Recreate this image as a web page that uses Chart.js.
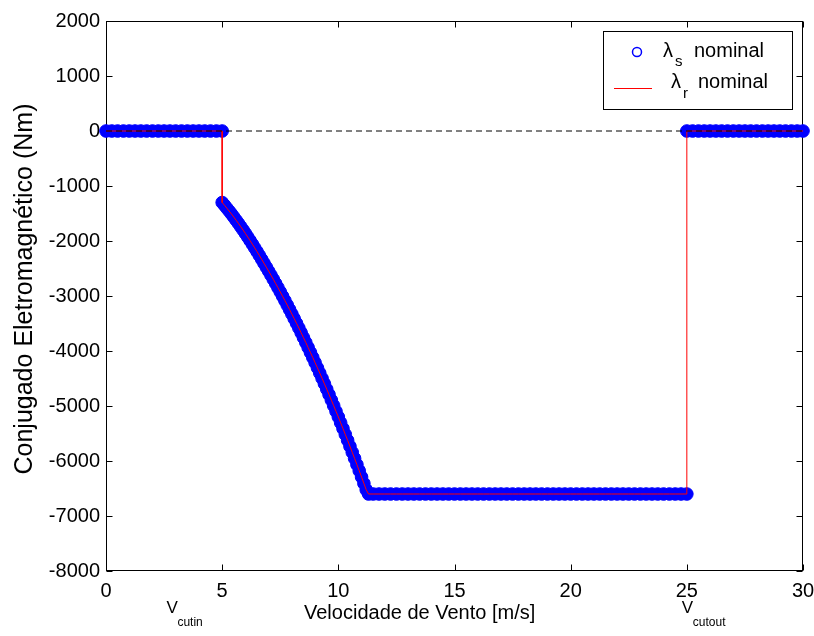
<!DOCTYPE html>
<html>
<head>
<meta charset="utf-8">
<script src="https://cdn.jsdelivr.net/npm/chart.js@4.4.0/dist/chart.umd.min.js"></script>
<style>
html, body { margin: 0; padding: 0; background: #fff; }
</style>
</head>
<body>
<canvas id="grafico" width="814" height="636"></canvas>
<script>
// ===================== DADOS =====================
// trecho abaixo do vento de partida
const velBaixa = [0, 0.25, 0.5, 0.75, 1, 1.25, 1.5, 1.75, 2, 2.25, 2.5, 2.75, 3, 3.25, 3.5, 3.75, 4, 4.25, 4.5, 4.75, 5];
const conjBaixa = [0, 0, 0, 0, 0, 0, 0, 0, 0, 0, 0, 0, 0, 0, 0, 0, 0, 0, 0, 0, 0];

// trecho de potência ótima
const velCurva = [5, 5.1, 5.2, 5.3, 5.4, 5.5, 5.6, 5.7, 5.8, 5.9,
    6, 6.1, 6.2, 6.3, 6.4, 6.5, 6.6, 6.7, 6.8, 6.9,
    7, 7.1, 7.2, 7.3, 7.4, 7.5, 7.6, 7.7, 7.8, 7.9,
    8, 8.1, 8.2, 8.3, 8.4, 8.5, 8.6, 8.7, 8.8, 8.9,
    9, 9.1, 9.2, 9.3, 9.4, 9.5, 9.6, 9.7, 9.8, 9.9,
    10, 10.1, 10.2, 10.3, 10.4, 10.5, 10.6, 10.7, 10.8, 10.9,
    11, 11.1, 11.2, 11.3];
const conjCurva = [-1300, -1350, -1402, -1455, -1509, -1565, -1622, -1680, -1740, -1801,
    -1863, -1927, -1992, -2058, -2125, -2193, -2262, -2333, -2404, -2476,
    -2548, -2621, -2696, -2771, -2848, -2925, -3004, -3083, -3164, -3245,
    -3328, -3412, -3496, -3582, -3669, -3757, -3846, -3936, -4027, -4119,
    -4212, -4306, -4401, -4497, -4595, -4693, -4792, -4893, -4994, -5097,
    -5200, -5305, -5410, -5517, -5624, -5733, -5843, -5953, -6065, -6178,
    -6292, -6407, -6523, -6600];

// trecho de conjugado nominal
const velPlana = [11.5, 11.75, 12, 12.25, 12.5, 12.75, 13, 13.25, 13.5, 13.75,
    14, 14.25, 14.5, 14.75, 15, 15.25, 15.5, 15.75, 16, 16.25,
    16.5, 16.75, 17, 17.25, 17.5, 17.75, 18, 18.25, 18.5, 18.75,
    19, 19.25, 19.5, 19.75, 20, 20.25, 20.5, 20.75, 21, 21.25,
    21.5, 21.75, 22, 22.25, 22.5, 22.75, 23, 23.25, 23.5, 23.75,
    24, 24.25, 24.5, 24.75, 25];
const conjPlana = [-6600, -6600, -6600, -6600, -6600, -6600, -6600, -6600, -6600, -6600,
    -6600, -6600, -6600, -6600, -6600, -6600, -6600, -6600, -6600, -6600,
    -6600, -6600, -6600, -6600, -6600, -6600, -6600, -6600, -6600, -6600,
    -6600, -6600, -6600, -6600, -6600, -6600, -6600, -6600, -6600, -6600,
    -6600, -6600, -6600, -6600, -6600, -6600, -6600, -6600, -6600, -6600,
    -6600, -6600, -6600, -6600, -6600];

// trecho acima do vento de corte
const velAlta = [25, 25.25, 25.5, 25.75, 26, 26.25, 26.5, 26.75, 27, 27.25, 27.5, 27.75, 28, 28.25, 28.5, 28.75, 29, 29.25, 29.5, 29.75, 30];
const conjAlta = [0, 0, 0, 0, 0, 0, 0, 0, 0, 0, 0, 0, 0, 0, 0, 0, 0, 0, 0, 0, 0];

const ticksX = [0, 5, 10, 15, 20, 25, 30];
const ticksY = [2000, 1000, 0, -1000, -2000, -3000, -4000, -5000, -6000, -7000, -8000];
const linhaZeroX = [0, 30];

const FONTE = "'Liberation Sans', Arial, sans-serif";

function pares(vs, ts) {
    return vs.map((v, i) => ({ x: v, y: ts[i] }));
}

const pontos = [].concat(
    pares(velBaixa, conjBaixa),
    pares(velCurva, conjCurva),
    pares(velPlana, conjPlana),
    pares(velAlta, conjAlta)
);

// ===================== MOLDURA ESTILO MATLAB =====================
const moldura = {
    id: "moldura",
    beforeDatasetsDraw(chart) {
        const { ctx, chartArea: a, scales } = chart;
        ctx.save();
        ctx.strokeStyle = "#000";
        ctx.lineWidth = 1;
        const L = Math.round(a.left) + 0.5, R = Math.round(a.right) - 0.5;
        const T = Math.round(a.top) + 0.5, B = Math.round(a.bottom) - 0.5;
        ctx.strokeRect(L, T, R - L, B - T);
        ctx.beginPath();
        ticksX.forEach(v => {
            const px = Math.round(scales.x.getPixelForValue(v)) + 0.5;
            ctx.moveTo(px, B); ctx.lineTo(px, B - 6);
            ctx.moveTo(px, T); ctx.lineTo(px, T + 6);
        });
        ticksY.forEach(v => {
            const py = Math.round(scales.y.getPixelForValue(v)) + 0.5;
            ctx.moveTo(L, py); ctx.lineTo(L + 6, py);
            ctx.moveTo(R, py); ctx.lineTo(R - 6, py);
        });
        ctx.stroke();
        ctx.restore();
    },
    afterDraw(chart) {
        const { ctx, chartArea: a, scales } = chart;
        ctx.save();
        ctx.fillStyle = "#000";

        // título do eixo y
        ctx.save();
        ctx.translate(25, (a.top + a.bottom) / 2 - 7);
        ctx.rotate(-Math.PI / 2);
        ctx.textAlign = "center";
        ctx.textBaseline = "middle";
        ctx.font = "25px " + FONTE;
        ctx.fillText("Conjugado Eletromagnético (Nm)", 0, 0);
        ctx.restore();

        // título do eixo x
        ctx.textAlign = "center";
        ctx.textBaseline = "alphabetic";
        ctx.font = "20px " + FONTE;
        ctx.fillText("Velocidade de Vento [m/s]", scales.x.getPixelForValue(13.5), 619);

        // V_cutin e V_cutout
        ctx.textAlign = "left";
        ctx.font = "17px " + FONTE;
        const xIn = scales.x.getPixelForValue(2.6);
        ctx.fillText("V", xIn, 613);
        ctx.font = "12px " + FONTE;
        ctx.fillText("cutin", xIn + 11, 626);
        ctx.font = "17px " + FONTE;
        const xOut = scales.x.getPixelForValue(25) - 5;
        ctx.fillText("V", xOut, 613);
        ctx.font = "12px " + FONTE;
        ctx.fillText("cutout", xOut + 11, 626);

        // legenda
        ctx.fillStyle = "#fff";
        ctx.fillRect(603, 31, 189, 78);
        ctx.strokeStyle = "#000";
        ctx.lineWidth = 1;
        ctx.strokeRect(603.5, 31.5, 189, 78);

        ctx.beginPath();
        ctx.arc(637, 52, 4.5, 0, 2 * Math.PI);
        ctx.strokeStyle = "#0000ff";
        ctx.lineWidth = 1.5;
        ctx.stroke();

        ctx.beginPath();
        ctx.moveTo(614, 88.5);
        ctx.lineTo(652, 88.5);
        ctx.strokeStyle = "#ff0000";
        ctx.lineWidth = 1;
        ctx.stroke();

        ctx.fillStyle = "#000";
        ctx.font = "20px " + FONTE;
        ctx.fillText("λ", 663, 57);
        ctx.fillText("nominal", 694, 57);
        ctx.fillText("λ", 671, 88);
        ctx.fillText("nominal", 698, 88);
        ctx.font = "15px " + FONTE;
        ctx.fillText("s", 675, 66);
        ctx.fillText("r", 683, 98);
        ctx.restore();
    }
};

// ===================== GRÁFICO =====================
const ctxG = document.getElementById("grafico").getContext("2d");
new Chart(ctxG, {
    type: "line",
    data: {
        datasets: [
            {
                label: "λs nominal",
                data: pontos,
                showLine: false,
                pointRadius: 6.3,
                pointBackgroundColor: "#0000ff",
                pointBorderColor: "#0000ff",
                pointBorderWidth: 1,
                borderColor: "#0000ff",
                clip: false,
                order: 3
            },
            {
                label: "λr nominal",
                data: pontos,
                borderColor: "#ff0000",
                borderWidth: 1,
                pointRadius: 0,
                tension: 0,
                order: 2
            },
            {
                label: "zero",
                data: pares(linhaZeroX, [0, 0]),
                borderColor: "#000",
                borderWidth: 1,
                borderDash: [6, 4],
                pointRadius: 0,
                order: 1
            }
        ]
    },
    options: {
        responsive: false,
        animation: false,
        layout: { padding: { top: 21, right: 11, left: 0, bottom: 0 } },
        plugins: {
            legend: { display: false },
            tooltip: { enabled: false }
        },
        scales: {
            x: {
                type: "linear",
                min: 0,
                max: 30,
                afterBuildTicks: s => { s.ticks = ticksX.map(v => ({ value: v })); },
                afterFit: s => { s.height = 65; s.paddingLeft = 0; s.paddingRight = 0; },
                grid: { display: false, drawTicks: false },
                border: { display: false },
                ticks: {
                    padding: 8,
                    color: "#000",
                    font: { family: FONTE, size: 20 },
                    maxRotation: 0,
                    callback: v => String(v)
                }
            },
            y: {
                type: "linear",
                min: -8000,
                max: 2000,
                afterBuildTicks: s => { s.ticks = ticksY.map(v => ({ value: v })); },
                afterFit: s => { s.width = 106; s.paddingTop = 0; s.paddingBottom = 0; },
                grid: { display: false, drawTicks: false },
                border: { display: false },
                ticks: {
                    padding: 6,
                    color: "#000",
                    font: { family: FONTE, size: 20 },
                    callback: v => String(v)
                }
            }
        }
    },
    plugins: [moldura]
});
</script>
</body>
</html>
